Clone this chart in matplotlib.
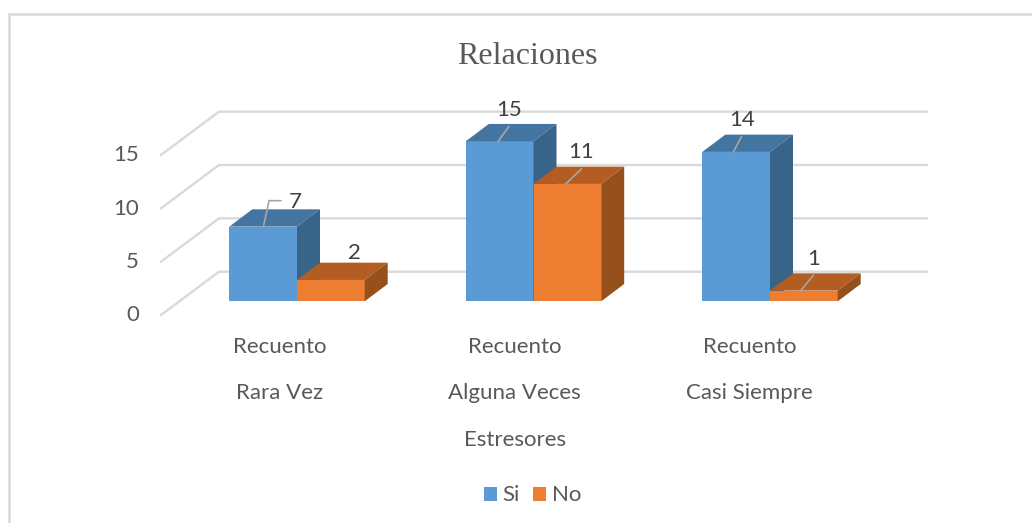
# Relaciones: 3D looking clustered columns, drawn flat with polygons

import matplotlib
matplotlib.use("Agg")
import matplotlib.pyplot as plt
from matplotlib.patches import Polygon, Rectangle

# Data

groups = ["Rara Vez", "Alguna Veces", "Casi Siempre"]
measure = "Recuento"
si_values = [7, 15, 14]
no_values = [2, 11, 1]
y_ticks = [0, 5, 10, 15]
series_names = ["Si", "No"]

# Scale of the picture

W, H = 1032, 523
px_per_cat = 236.5
px_per_unit = 10.67
x0_px = 297.0
y0_px = 301.3


def xs(px):
    return (px - x0_px) / px_per_cat


def ys(px):
    return (y0_px - px) / px_per_unit


bar_w = 67.7 / px_per_cat
depth_x = 23 / px_per_cat
depth_y = 17.3 / px_per_unit

blue = ["#5B9BD5", "#4475A1", "#39648A"]
orange = ["#ED7D31", "#B35D22", "#95501C"]
text_col = "#595959"
label_col = "#404040"
grid_col = "#D9D9D9"
font_size = 16

plt.rcParams["font.family"] = ["Lato", "DejaVu Sans"]

fig = plt.figure(figsize=(W / 100, H / 100), dpi=100)
ax = fig.add_axes([0, 0, 1, 1])
ax.set_xlim(xs(0), xs(W))
ax.set_ylim(ys(H), ys(0))
ax.axis("off")

# Outer frame, only left and top show

ax.plot([xs(9.5), xs(9.5), xs(1032)], [ys(523), ys(14), ys(14)],
        color="#D9D9D9", lw=1.8, solid_joinstyle="miter")

# Gridlines, floor part then back wall

for t in y_ticks:
    y_front = t + ys(315)
    y_back = t + ys(271.7)
    ax.plot([xs(161), xs(219), xs(927)], [y_front, y_back, y_back],
            color=grid_col, lw=1.7, zorder=1)
    ax.text(xs(139), y_front - 0.03, str(t), ha="right", va="center",
            fontsize=font_size, color=text_col)


def draw_bar(x, value, cols, z):
    ax.add_patch(Rectangle((x, 0), bar_w, value, fc=cols[0], ec="none", zorder=z))
    ax.add_patch(Polygon([(x, value), (x + bar_w, value),
                          (x + bar_w + depth_x, value + depth_y),
                          (x + depth_x, value + depth_y)],
                         fc=cols[1], ec="none", zorder=z))
    ax.add_patch(Polygon([(x + bar_w, 0), (x + bar_w + depth_x, depth_y),
                          (x + bar_w + depth_x, value + depth_y),
                          (x + bar_w, value)],
                         fc=cols[2], ec="none", zorder=z))


for i in range(len(groups)):
    draw_bar(i - bar_w, si_values[i], blue, 3)
    draw_bar(i, no_values[i], orange, 4)

# Data labels with their leader lines, offsets from the top of each bar

leader_si = [[(-0.142, 0), (-0.118, 2.43), (-0.068, 2.43)],
             [(-0.149, 0), (-0.104, 1.38)],
             [(-0.155, 0), (-0.121, 1.4)]]
leader_no = [None,
             [(0.136, 0), (0.202, 1.4)],
             [(0.130, 0), (0.183, 1.44)]]
label_si = [(-0.008, 2.33), (-0.103, 2.93), (-0.118, 3.0)]
label_no = [(0.241, 2.53), (0.200, 2.99), (0.186, 2.96)]

for i in range(len(groups)):
    pts = leader_si[i]
    ax.plot([i + p[0] for p in pts], [si_values[i] + p[1] for p in pts],
            color="#A6A6A6", lw=1.2, zorder=6)
    ax.text(i + label_si[i][0], si_values[i] + label_si[i][1], str(si_values[i]),
            ha="center", va="center", fontsize=font_size, color=label_col, zorder=7)
    if leader_no[i] is not None:
        pts = leader_no[i]
        ax.plot([i + p[0] for p in pts], [no_values[i] + p[1] for p in pts],
                color="#A6A6A6", lw=1.2, zorder=6)
    ax.text(i + label_no[i][0], no_values[i] + label_no[i][1], str(no_values[i]),
            ha="center", va="center", fontsize=font_size, color=label_col, zorder=7)

# Category labels in two levels

label_px = [280, 514.5, 749.5]

for i, g in enumerate(groups):
    ax.text(xs(label_px[i]), ys(347), measure, ha="center", va="center",
            fontsize=font_size, color=text_col)
    ax.text(xs(label_px[i]), ys(393), g, ha="center", va="center",
            fontsize=font_size, color=text_col)

ax.text(xs(515), ys(440), "Estresores", ha="center", va="center",
        fontsize=font_size, color=text_col)

ax.text(xs(527.5), ys(56), "Relaciones", ha="center", va="center",
        fontsize=23, color=text_col, family="Liberation Serif")

# Legend, hand placed so it sits like the original

ax.add_patch(Rectangle((xs(484), ys(501)), 13 / px_per_cat, 14 / px_per_unit,
                       fc=blue[0], ec="none"))
ax.text(xs(502), ys(495), series_names[0], ha="left", va="center",
        fontsize=font_size, color=text_col)
ax.add_patch(Rectangle((xs(533), ys(501)), 13 / px_per_cat, 14 / px_per_unit,
                       fc=orange[0], ec="none"))
ax.text(xs(552), ys(495), series_names[1], ha="left", va="center",
        fontsize=font_size, color=text_col)

fig.savefig("out.png", dpi=100)
